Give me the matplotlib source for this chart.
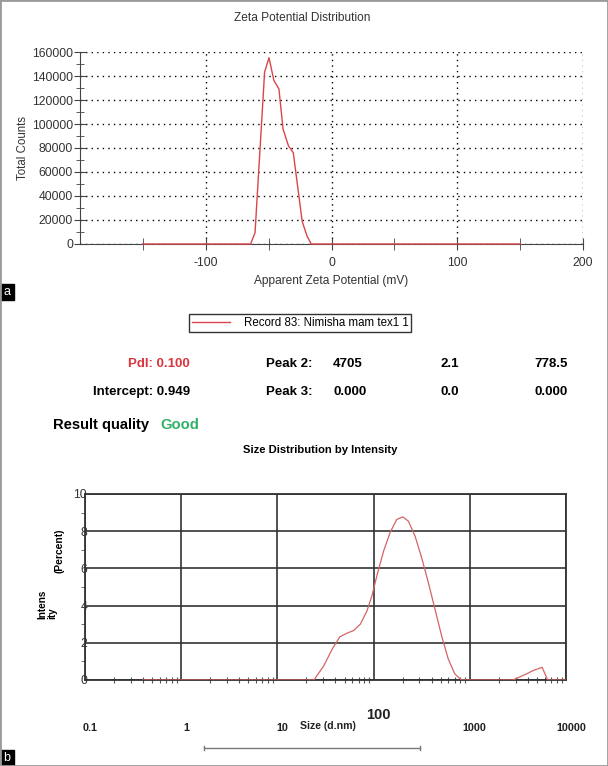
import numpy as np
import matplotlib
matplotlib.use("Agg")
import matplotlib.pyplot as plt
from matplotlib.lines import Line2D
from matplotlib.patches import Rectangle
from matplotlib.transforms import blended_transform_factory, offset_copy
from matplotlib.ticker import FixedLocator, NullFormatter

plt.rcParams['font.family'] = ['Liberation Sans', 'DejaVu Sans']
plt.rcParams['axes.unicode_minus'] = False

# zeta potential distribution (mV -> total counts)
zeta_mv = [-150, -64.3, -60.8, -53.2, -49.7, -45.8, -41.8, -38.5, -34.2, -30.4,
           -23.3, -19.3, -16.1, 150]
zeta_counts = [0, 0, 9500, 143200, 155200, 136200, 129200, 95700, 81700, 76100,
               18700, 6200, 0, 0]

# size distribution by intensity (d.nm -> percent)
size_nm = [0.4, 24, 30.4, 37.1, 44.5, 53, 62, 72.8, 85.3, 96, 108, 127, 149, 174,
           201, 230, 270, 316, 371, 435, 509, 597, 700, 821, 2808, 3857, 4518,
           5648, 6457, 10000]
size_pct = [0, 0, 0.77, 1.66, 2.32, 2.52, 2.66, 3.0, 3.71, 4.52, 5.59, 6.93, 7.95,
            8.63, 8.77, 8.54, 7.73, 6.57, 5.23, 3.80, 2.38, 1.13, 0.32, 0, 0,
            0.32, 0.5, 0.68, 0, 0]

zeta_xticks = [-100, 0, 100, 200]
zeta_xminor = [-150, -50, 50, 150]
zeta_yticks = list(range(0, 160001, 20000))
size_xticks = [0.1, 1, 10, 100, 1000, 10000]
size_xlabels = ['0.1', '1', '10', '100', '1000', '10000']
size_yticks = [0, 2, 4, 6, 8, 10]

record_label = 'Record 83: Nimisha mam tex1 1'
row1 = ['Peak 2:', '4705', '2.1', '778.5']
row2 = ['Peak 3:', '0.000', '0.0', '0.000']

W, H = 608, 766
fig = plt.figure(figsize=(W / 100, H / 100), dpi=100)

def fx(px):
    return px / W

def fy(py):
    return 1 - py / H

line_red = '#d9464a'
txt = '#333333'

# ---- panel a : zeta potential ----
ax1 = fig.add_axes([fx(80), fy(244), (583 - 80) / W, (244 - 52) / H])
zl, = ax1.plot(zeta_mv, zeta_counts, color=line_red, lw=1, zorder=5, clip_on=False,
               label=record_label)
ax1.set_xlim(-200, 200)
ax1.set_ylim(0, 160000)
for s in ['top', 'right']:
    ax1.spines[s].set_visible(False)
for s in ['left', 'bottom']:
    ax1.spines[s].set_color('#444444')
ax1.set_xticks(zeta_xticks)
ax1.xaxis.set_minor_locator(FixedLocator(zeta_xminor))
ax1.set_yticks(zeta_yticks)
ax1.yaxis.set_minor_locator(FixedLocator([v + 10000 for v in zeta_yticks[:-1]]))
ax1.tick_params(which='both', direction='inout', color='#444444', labelcolor=txt,
                labelsize=8.7)
ax1.tick_params(axis='x', which='major', length=8, pad=5)
ax1.tick_params(axis='x', which='minor', length=8)
ax1.tick_params(axis='y', which='major', length=8, pad=1)
ax1.tick_params(axis='y', which='minor', length=6)
ax1.grid(True, which='major', color='black', linestyle=(0, (1, 3)), lw=1)
ax1.set_xlabel('Apparent Zeta Potential (mV)', fontsize=8.6, color=txt, labelpad=5)
ax1.set_ylabel('Total Counts', fontsize=8.3, color=txt, labelpad=2)
fig.text(fx(302), fy(18), 'Zeta Potential Distribution', fontsize=8.6, color=txt,
         ha='center', va='center')

# legend box
fig.legend(handles=[zl], loc='center', bbox_to_anchor=(fx(300), fy(323)),
           fontsize=8.3, frameon=True, fancybox=False, edgecolor='#333333',
           framealpha=1, borderpad=0.25, handlelength=3.3, handletextpad=1.2,
           borderaxespad=0)

# results text
bold = dict(fontsize=9.5, fontweight='bold', va='center')
fig.text(fx(190), fy(364), 'PdI: 0.100', color='#d9363e', ha='right', **bold)
fig.text(fx(190), fy(392), 'Intercept: 0.949', color='black', ha='right', **bold)
for yy, row in [(364, row1), (392, row2)]:
    fig.text(fx(312), fy(yy), row[0], ha='right', **bold)
    fig.text(fx(333), fy(yy), row[1], ha='left', **bold)
    fig.text(fx(459), fy(yy), row[2], ha='right', **bold)
    fig.text(fx(568), fy(yy), row[3], ha='right', **bold)
fig.text(fx(53), fy(425), 'Result quality', fontsize=10.6, fontweight='bold',
         va='center', ha='left')
fig.text(fx(160), fy(425), 'Good', fontsize=10.6, fontweight='bold', va='center',
         ha='left', color='#33b06a')
fig.text(fx(320), fy(450), 'Size Distribution by Intensity', fontsize=8.1,
         fontweight='bold', va='center', ha='center')

# ---- panel b : size distribution ----
ax2 = fig.add_axes([fx(85), fy(680), (566 - 85) / W, (680 - 494) / H])
ax2.plot(size_nm, size_pct, color='#d36464', lw=0.9, zorder=5)
ax2.set_xscale('log')
ax2.set_xlim(0.1, 10000)
ax2.set_ylim(0, 10)
for s in ax2.spines.values():
    s.set_color('#333333')
    s.set_linewidth(1.3)
ax2.set_xticks(size_xticks)
ax2.xaxis.set_major_formatter(NullFormatter())
ax2.xaxis.set_minor_formatter(NullFormatter())
ax2.tick_params(axis='x', which='major', length=0)
ax2.tick_params(axis='x', which='minor', direction='inout', length=4,
                color='#555555', width=0.8)
ax2.set_yticks(size_yticks)
ax2.set_yticklabels([str(v) for v in size_yticks])
ax2.yaxis.set_minor_locator(FixedLocator([1, 3, 5, 7, 9]))
ax2.tick_params(axis='y', which='major', length=0, pad=-1.5, labelsize=8.8,
                labelcolor='#333333')
ax2.tick_params(axis='y', which='minor', direction='out', length=3,
                color='#555555')
ax2.grid(True, which='major', color='#333333', lw=1.2, linestyle='-')

trans = blended_transform_factory(ax2.transData, ax2.transAxes)
trans = offset_copy(trans, fig=fig, x=5, y=0, units='dots')
for xv, lab in zip(size_xticks, size_xlabels):
    if lab == '100':
        ax2.text(xv, -0.188, lab, transform=trans, fontsize=10.5,
                 fontweight='bold', ha='center', va='center', color='#222222')
    else:
        ax2.text(xv, -0.258, lab, transform=trans, fontsize=7.8,
                 fontweight='bold', ha='center', va='center', color='#222222')
fig.text(fx(328), fy(726), 'Size (d.nm)', fontsize=7.6, fontweight='bold',
         ha='center', va='center', color='#222222')
# y label split over two rotated lines, both starting at the same bottom
for xl, part in [(42, 'Intens'), (52.5, 'ity')]:
    fig.text(fx(xl), fy(619), part, fontsize=7.2, fontweight='bold',
             rotation=90, rotation_mode='anchor', ha='left', va='center')
fig.text(fx(59.5), fy(551), '(Percent)', fontsize=7.4, fontweight='bold',
         rotation=90, ha='center', va='center')

# scroll bar like segment under the axis label
fig.add_artist(Line2D([fx(204), fx(420)], [fy(748), fy(748)], color='#777777',
                      lw=1))
for xe in (204, 420):
    fig.add_artist(Line2D([fx(xe), fx(xe)], [fy(746), fy(750)], color='#777777',
                          lw=1))

# panel letters
for letter, y0 in [('a', 284), ('b', 750)]:
    fig.add_artist(Rectangle((0, fy(y0 + 16)), fx(14), 16 / H, color='black',
                             transform=fig.transFigure))
    fig.text(fx(7), fy(y0 + 8), letter, color='white', fontsize=9, ha='center',
             va='center')

# outer frame
fig.add_artist(Rectangle((0, 0), 1, 1, fill=False, edgecolor='#9a9a9a', lw=2,
                         transform=fig.transFigure))

fig.savefig('out.png', dpi=100)
